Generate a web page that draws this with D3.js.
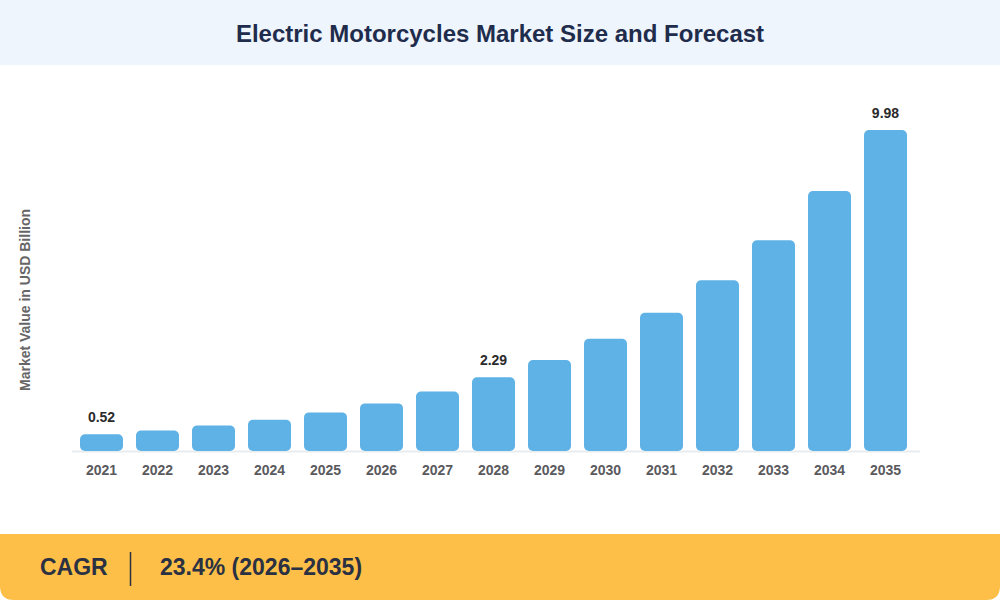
<!DOCTYPE html>
<html>
<head>
<meta charset="utf-8">
<script src="https://cdn.jsdelivr.net/npm/d3@7"></script>
<style>
  html, body { margin: 0; padding: 0; background: #fff; }
  svg { display: block; font-family: "Liberation Sans", Arial, Helvetica, sans-serif; }
</style>
</head>
<body>
<div id="chart"></div>
<script>
// 電動機車市場規模 — 數值由圖上讀出（USD Billion）
const years  = ["2021","2022","2023","2024","2025","2026","2027","2028","2029","2030","2031","2032","2033","2034","2035"];
const values = [0.52, 0.64, 0.79, 0.97, 1.20, 1.48, 1.85, 2.29, 2.83, 3.49, 4.30, 5.31, 6.55, 8.08, 9.98];
const labelled = ["2021", "2028", "2035"];
const title = "Electric Motorcycles Market Size and Forecast";
const yTitle = "Market Value in USD Billion";
const cagrLabel = "CAGR";
const cagrValue = "23.4% (2026–2035)";

(function () {
  const W = 1000, H = 600;
  const svg = d3.select("#chart").append("svg")
    .attr("width", W).attr("height", H).attr("viewBox", `0 0 ${W} ${H}`);

  /* 標題列 */
  svg.append("rect").attr("x", 0).attr("y", 0).attr("width", W).attr("height", 65).attr("fill", "#EEF5FD");
  svg.append("text")
    .attr("x", W / 2).attr("y", 41.5)
    .attr("text-anchor", "middle")
    .attr("font-size", 24).attr("font-weight", 700)
    .attr("fill", "#1F2C4C")
    .text(title);

  /* 長條圖 */
  const x = d3.scaleBand().domain(years).range([80, 907]).paddingInner(0.232).paddingOuter(0);
  const y = d3.scaleLinear().domain([0, 9.98]).range([451, 130]);

  svg.append("line")
    .attr("x1", 72).attr("x2", 920).attr("y1", 451.5).attr("y2", 451.5)
    .attr("stroke", "#E9ECEF").attr("stroke-width", 2);

  svg.append("g").selectAll("rect")
    .data(years).join("rect")
    .attr("x", d => x(d))
    .attr("y", (d, i) => y(values[i]))
    .attr("width", x.bandwidth())
    .attr("height", (d, i) => y(0) - y(values[i]))
    .attr("rx", 5).attr("ry", 5)
    .attr("fill", "#5FB2E5");

  svg.append("g").selectAll("text")
    .data(years.filter(d => labelled.includes(d))).join("text")
    .attr("x", d => x(d) + x.bandwidth() / 2)
    .attr("y", d => y(values[years.indexOf(d)]) - 12)
    .attr("text-anchor", "middle")
    .attr("font-size", 14).attr("font-weight", 700)
    .attr("fill", "#2B2B2B")
    .text(d => values[years.indexOf(d)].toFixed(2));

  /* X 軸年份 */
  const xAxis = svg.append("g")
    .attr("transform", "translate(0,451)")
    .call(d3.axisBottom(x).tickSize(0).tickPadding(14));
  xAxis.select(".domain").remove();
  xAxis.selectAll("text")
    .attr("font-family", "Liberation Sans, Arial, sans-serif")
    .attr("font-size", 14).attr("font-weight", 700)
    .attr("fill", "#5A5A5E");

  /* Y 軸標題 */
  svg.append("text")
    .attr("transform", "translate(30,300) rotate(-90)")
    .attr("text-anchor", "middle")
    .attr("font-size", 14).attr("font-weight", 700)
    .attr("fill", "#666")
    .text(yTitle);

  /* CAGR 橫幅 */
  const r = 14, bandTop = 534;
  svg.append("path")
    .attr("d", `M0,${bandTop} H${W} V${H - r} Q${W},${H} ${W - r},${H} H${r} Q0,${H} 0,${H - r} Z`)
    .attr("fill", "#FDBF48");
  svg.append("text")
    .attr("x", 40).attr("y", 575)
    .attr("font-size", 23).attr("font-weight", 700)
    .attr("fill", "#2A3142")
    .text(cagrLabel);
  svg.append("line")
    .attr("x1", 130.5).attr("x2", 130.5).attr("y1", 552).attr("y2", 586)
    .attr("stroke", "#2A3142").attr("stroke-width", 1.5);
  svg.append("text")
    .attr("x", 160).attr("y", 575)
    .attr("font-size", 23).attr("font-weight", 700)
    .attr("fill", "#2A3142")
    .text(cagrValue);
})();
</script>
</body>
</html>
